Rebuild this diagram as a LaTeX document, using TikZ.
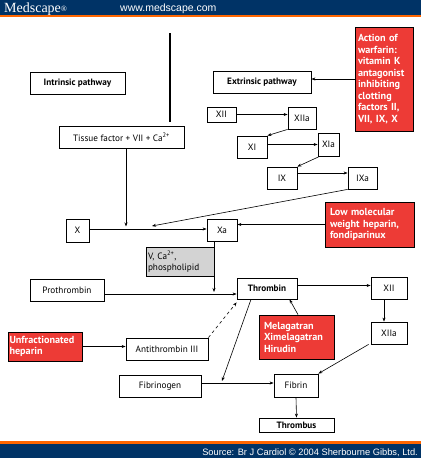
\documentclass[tikz,border=0pt]{standalone}
\usepackage{fontspec}
\setmainfont{PT Sans}
\newfontfamily\hdrfont{Liberation Sans}
\newfontfamily\logofont{Liberation Serif}
\usepackage{tikz}
\usetikzlibrary{arrows.meta}

\definecolor{mednavy}{RGB}{0,51,102}
\definecolor{medorange}{RGB}{255,102,0}
\definecolor{drugred}{RGB}{237,59,54}
\definecolor{cofgray}{RGB}{211,211,211}

\tikzset{
  box/.style={draw, line width=0.8pt, fill=white, inner sep=0pt,
    font=\fontsize{9.2}{10.5}\selectfont},
  drug/.style={draw=black, line width=0.8pt, fill=drugred, text=white, inner ysep=0pt,
    align=left, font=\fontsize{10.2}{11.5}\selectfont\bfseries},
  arr/.style={line width=0.6pt, -{Stealth[length=4pt,width=3pt]}}
}

\begin{document}
\begin{tikzpicture}[x=1pt, y=-1pt]
  \useasboundingbox (0,0) rectangle (421,458);

  % banner and footer
  \fill[mednavy] (0,0) rectangle (421,15);
  \fill[medorange] (0,15) rectangle (421,17.2);
  \fill[medorange] (0,441) rectangle (421,443.5);
  \fill[mednavy] (0,443.5) rectangle (421,458);
  \node[anchor=base west, text=white, inner sep=0pt, font=\logofont\fontsize{14}{14}\selectfont] (logo) at (4,12) {Medscape{\fontsize{8}{8}\selectfont\raisebox{0.2ex}{®}}};
  \node[anchor=base west, text=white, inner sep=0pt, font=\hdrfont\fontsize{10.5}{10.5}\selectfont] (url) at (120,11.5) {www.medscape.com};
  \node[anchor=base east, text=white, inner sep=0pt, font=\hdrfont\fontsize{9.3}{9.3}\selectfont] (src) at (418,455) {Source: Br J Cardiol © 2004 Sherbourne Gibbs, Ltd.};

  % separator
  \draw[line width=1.6pt] (170,33) -- (170,122);

  % pathways
  \node[box, minimum width=95pt, minimum height=22pt, font=\fontsize{9.2}{10.5}\selectfont\bfseries] (intr) at (77.5,83) {Intrinsic pathway};
  \node[box, minimum width=98pt, minimum height=22pt, font=\fontsize{9.2}{10.5}\selectfont\bfseries] (ext) at (262,82) {Extrinsic pathway};
  \node[box, minimum width=125pt, minimum height=22pt] (tf) at (121.5,137) {Tissue factor + VII + Ca\textsuperscript{2+}};

  % cascade
  \node[box, minimum width=29pt, minimum height=15pt] (xii) at (221.5,114.5) {XII};
  \node[box, minimum width=28pt, minimum height=22pt] (xiia) at (302,118) {XIIa};
  \node[box, minimum width=30pt, minimum height=22pt] (xi) at (252,147) {XI};
  \node[box, minimum width=21pt, minimum height=23pt] (xia) at (328.5,144.5) {XIa};
  \node[box, minimum width=30pt, minimum height=22pt] (ix) at (282,178) {IX};
  \node[box, minimum width=29pt, minimum height=22pt] (ixa) at (362.5,178) {IXa};
  \node[box, minimum width=23pt, minimum height=23pt] (x) at (77.5,230.5) {X};
  \node[box, minimum width=30pt, minimum height=22pt] (xa) at (222,230) {Xa};
  \node[box, fill=cofgray, align=left, minimum width=68pt, minimum height=29pt, text width=64pt, inner xsep=2pt] (cof) at (180,261.5) {V, Ca\textsuperscript{2+},\\phospholipid};
  \node[box, minimum width=74pt, minimum height=22pt] (proth) at (67,290) {Prothrombin};
  \node[box, minimum width=60pt, minimum height=21pt, font=\fontsize{9.2}{10.5}\selectfont\bfseries] (thr) at (267,288.5) {Thrombin};
  \node[box, minimum width=36pt, minimum height=22pt] (xiib) at (389,288) {XII};
  \node[box, minimum width=36pt, minimum height=22pt] (xiiab) at (389,333) {XIIa};
  \node[box, minimum width=82pt, minimum height=22pt] (at) at (167,349) {Antithrombin III};
  \node[box, minimum width=82pt, minimum height=22pt] (fgn) at (160,386) {Fibrinogen};
  \node[box, minimum width=44pt, minimum height=23pt] (fib) at (296,385.5) {Fibrin};
  \node[box, minimum width=75pt, minimum height=14pt, font=\fontsize{9.2}{10.5}\selectfont\bfseries] (thb) at (296.5,425) {Thrombus};

  % drugs
  \node[drug, minimum height=104pt, text width=52pt, inner xsep=3pt] (warf) at (384,79) {Action of\\warfarin:\\vitamin K\\antagonist\\inhibiting\\clotting\\factors II,\\VII, IX, X};
  \node[drug, minimum height=45pt, text width=79pt, inner xsep=5pt] (lmwh) at (369.5,224.5) {Low molecular\\weight heparin,\\fondiparinux};
  \node[drug, minimum height=29pt, text width=71pt, inner xsep=1.5pt] (ufh) at (45,346.5) {Unfractionated\\heparin};
  \node[drug, minimum height=44pt, text width=65pt, inner xsep=5pt] (meg) at (296.5,337) {Melagatran\\Ximelagatran\\Hirudin};

  % join points
  \coordinate (tfx) at (126,228);
  \coordinate (ixx) at (152,226);
  \coordinate (xap) at (214,292);
  \coordinate (thf) at (222,381);

  \draw[arr] (warf.west) -- (warf.west -| ext.east);
  \draw[arr] (xii.east) -- (xii.east -| xiia.west);
  \draw[arr] (xiia.south west) -- (xi.north east);
  \draw[arr] (xia.west -| xi.east) -- (xia.west);
  \draw[arr] ([xshift=2pt]xia.south west) -- (ix.north east);
  \draw[arr] ([yshift=5pt]ix.east) -- ([yshift=5pt]ixa.west);
  \draw[arr] (ixa.south west) -- (ixx);
  \draw[arr] (tf.south -| tfx) -- ([yshift=1.5pt]tfx);
  \draw[arr] ([yshift=1.5pt]x.east) -- ([yshift=1.5pt]x.east -| xa.west);
  \draw[arr] (lmwh.west) -- (lmwh.west -| xa.east);
  \draw[arr] ([xshift=-8pt]xa.south) -- (xap);
  \draw[arr] ([yshift=-4pt]proth.east) -- ([yshift=-4pt]proth.east -| thr.west);
  \draw[arr] ([yshift=3pt]thr.east) -- ([yshift=3pt]thr.east -| xiib.west);
  \draw[arr] ([xshift=-5pt]xiib.south) -- ([xshift=-5pt]xiiab.north);
  \draw[arr] ([xshift=-2pt]xiiab.south west) -- (fib.north east);
  \draw[arr] ([yshift=3pt]fgn.east) -- ([yshift=3pt]fgn.east -| fib.west);
  \draw[arr] (fib.south) -- (thb.north);
  \draw[arr] ([xshift=-16pt]thr.south) -- (thf);
  \draw[arr, dashed] (at.north east) -- ([yshift=-3pt]thr.south west);
  \draw[arr] (ufh.east) -- (ufh.east -| at.west);
  \draw[arr] ([xshift=1.5pt]meg.north) -- ([xshift=-7pt]meg.north |- thr.south);
\end{tikzpicture}
\end{document}
